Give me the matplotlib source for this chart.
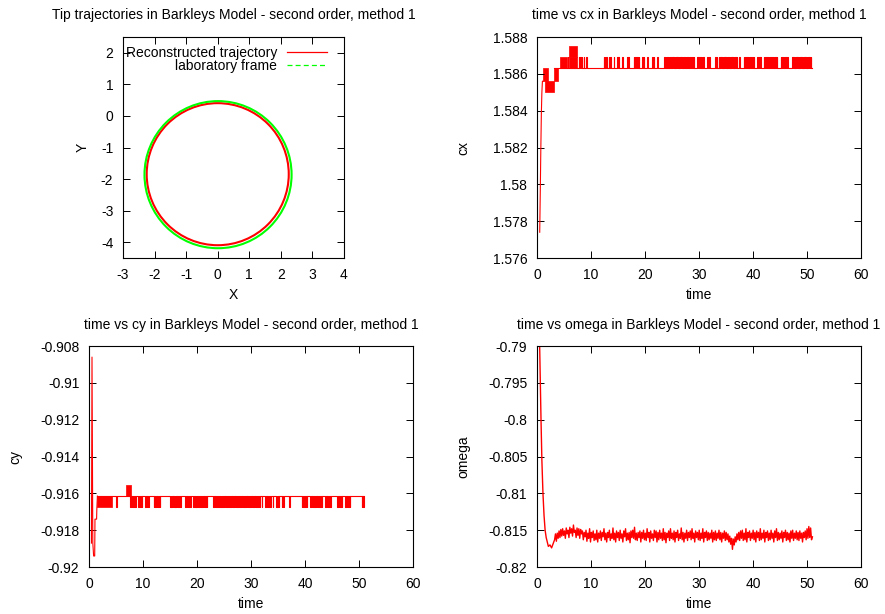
import numpy as np
import matplotlib
matplotlib.use("Agg")
import matplotlib.pyplot as plt
from matplotlib.patches import Circle
from matplotlib.lines import Line2D
from matplotlib.ticker import FuncFormatter, MultipleLocator

RED = "#ff0000"
GREEN = "#00ff00"
FS = 10

# ── Tip trajectories (circle centre / radius per curve) ───────────────────
circ_labels = ["Reconstructed trajectory", "laboratory frame"]
circ_x0 = [0.0, 0.01]
circ_y0 = [-1.845, -1.86]
circ_r = [2.25, 2.33]

# ── cx vs time ────────────────────────────────────────────────────────────
cx_head_t = [0.5, 0.6, 0.7, 0.8, 0.9, 1.0, 1.15]
cx_head_v = [1.5774, 1.5795, 1.5818, 1.5838, 1.5850, 1.5856, 1.5856]
cx_base, cx_high = 1.5863, 1.5869
cx_start, cx_end = 3.1, 50.9
# dense toggling blocks: (t0, t1, low, high)
cx_bands = [(1.15, 2.0, 1.5856, 1.5863), (1.55, 3.2, 1.5850, 1.5856),
            (3.1, 3.8, 1.5856, 1.5863), (4.3, 5.55, 1.5863, 1.5869),
            (5.85, 7.45, 1.5863, 1.5869), (5.95, 7.35, 1.5869, 1.5875)]
cx_spikes = [5.65, 7.7, 7.95, 8.3, 8.65, 9.05,
             12.35, 12.55, 12.8, 13.3, 13.55, 14.2, 14.8, 15.0, 15.75, 16.65,
             16.85, 17.9, 18.2, 18.5, 18.8, 19.45, 19.75, 20.4, 21.3, 21.6,
             22.2, 23.5, 23.8, 24.1, 24.4, 24.7, 25.0, 25.25, 25.5, 25.75,
             26.0, 26.25, 26.5, 26.75, 27.0, 27.25, 27.5, 27.75, 28.1, 28.4,
             28.7, 29.0, 29.6, 29.9, 30.2, 30.5, 30.8, 31.5, 31.9, 33.0, 33.3,
             33.65, 33.9, 34.15, 34.4, 34.65, 34.9, 35.15, 35.4, 35.65, 35.9,
             36.15, 36.4, 36.7, 37.0, 37.4, 38.3, 38.6, 38.9, 39.2, 39.5, 39.8,
             40.1, 40.75, 41.1, 41.35, 42.0, 42.3, 42.6, 42.9, 43.2, 43.5,
             43.8, 44.1, 44.4, 45.1, 45.4, 45.7, 46.0, 46.3, 47.2, 47.45, 47.7,
             47.95, 48.2, 48.45, 48.7, 48.95, 49.2, 49.45, 49.7, 49.95, 50.2,
             50.45, 50.7]

# ── cy vs time ────────────────────────────────────────────────────────────
cy_head_t = [0.45, 0.55, 0.7, 0.85, 1.05, 1.1, 1.4, 1.45, 1.55]
cy_head_v = [-0.9187, -0.9086, -0.9187, -0.9194, -0.9194, -0.9174, -0.9174,
             -0.9168, -0.91615]
cy_base, cy_low = -0.91615, -0.91675
cy_start, cy_end = 1.55, 50.8
cy_bands = [(1.55, 4.2, -0.91675, -0.91615), (6.85, 7.7, -0.91615, -0.91555)]
cy_spikes = [5.05, 7.6, 7.9, 8.2, 8.5, 9.1, 9.45, 9.75, 10.4, 10.7, 11.0, 12.0,
             12.25, 12.5, 12.8, 13.1, 15.0, 15.25, 15.5, 15.75, 16.0, 16.2,
             16.55, 16.85, 17.8, 18.1, 18.4, 18.7, 19.3, 19.6, 19.9, 20.25,
             20.55, 20.9, 21.2, 21.5, 21.8, 23.0, 23.3, 23.6, 23.95, 24.25,
             24.5, 24.8, 25.1, 25.4, 25.8, 26.1, 26.4, 26.7, 27.0, 27.3, 27.6,
             27.95, 28.3, 28.6, 28.9, 29.2, 29.5, 29.8, 30.1, 30.4, 30.7, 31.0,
             31.3, 31.6, 31.95, 32.6, 32.9, 33.2, 33.5, 34.0, 34.6, 34.9, 35.1,
             35.7, 36.0, 37.1, 39.4, 39.7, 40.0, 40.3, 40.9, 41.2, 41.5, 41.85,
             42.15, 42.45, 42.75, 43.1, 43.7, 44.0, 44.3, 44.6, 45.9, 46.2,
             46.5, 46.8, 47.4, 47.7, 48.0, 48.3, 50.5, 50.8]

# ── omega vs time ─────────────────────────────────────────────────────────
om_head_t = [0.45, 0.6, 0.74, 0.9, 1.1, 1.3, 1.5, 1.7, 1.9, 2.1, 2.4, 2.7, 3.0]
om_head_v = [-0.7885, -0.7945, -0.8000, -0.8055, -0.8100, -0.8130, -0.8150,
             -0.8160, -0.8166, -0.8172, -0.8170, -0.8174, -0.8168]
om_mean = -0.8157
om_t0, om_t1 = 3.25, 51.0
# deviations from the mean, in units of 1e-4
om_dev = [-6, 2, -8, 3, -4, 6, -3, 8, -1, 9, 0, 6, -4, 10, 2, 7,
          -3, 11, 3, 9, -1, 14, 4, 7, -3, 10, 0, 9, -4, 8, 2, 6,
          -6, 4, -2, 7, -8, 3, -4, 9, -9, 4, -3, 6, -7, 2, -6, 7,
          -9, 3, -4, 6, -7, 4, -2, 9, -6, 3, -9, 4, -3, 7, -7, 2,
          -4, 10, -6, 3, -9, 6, -3, 4, -7, 7, -4, 2, -9, 6, -2, 9,
          -7, 3, -6, 4, -10, 6, -3, 7, -4, 11, -6, 3, -7, 4, -3, 6,
          -9, 4, -4, 7, -6, 3, -7, 9, -3, 4, -9, 6, -4, 2, -7, 7,
          -3, 6, -9, 4, -6, 7, -4, 3, -7, 9, -6, 4, -10, 3, -3, 6,
          -7, 9, -4, 3, -6, 6, -9, 4, -3, 7, -7, 2, -4, 10, -6, 4,
          -9, 3, -4, 7, -7, 4, -3, 6, -6, 9, -4, 3, -9, 6, -3, 4,
          -6, 7, -7, 3, -4, 9, -9, 4, -3, 6, -7, 4, -6, 3, -4, 7,
          -9, 4, -6, 6, -7, 3, -4, 7, -6, 4, -9, 3, -4, 6, -7, 4,
          -6, 2, -9, -1, -12, -4, -19, -5, -13, -2, -9, 2, -6, 4, -7, 6,
          -4, 7, -7, 3, -6, 9, -9, 4, -3, 6, -7, 3, -4, 7, -6, 4,
          -9, 6, -3, 4, -7, 9, -6, 3, -4, 7, -9, 4, -3, 6, -7, 3,
          -6, 7, -4, 3, -9, 6, -3, 9, -7, 4, -6, 3, -4, 6, -9, 4,
          -3, 7, -7, 4, -6, 3, -9, 6, -4, 7, -7, 3, -4, 6, -6, 4,
          -7, 6, -4, 3, -9, 4, -3, 6, -6, 9, -4, 12, -3, 10, -6, -2]

plt.rcParams.update({
    "font.family": "Liberation Sans",
    "font.size": FS,
    "axes.linewidth": 0.8,
})


def fmt(v, _pos):
    return f"{round(v, 6):g}"


def style(ax, xlabel, ylabel, title, ylabel_x, title_pad):
    ax.tick_params(direction="in", top=True, right=True, length=5, width=0.7,
                   pad=7, labelsize=FS)
    ax.xaxis.set_major_formatter(FuncFormatter(fmt))
    ax.yaxis.set_major_formatter(FuncFormatter(fmt))
    ax.set_xlabel(xlabel, fontsize=FS)
    ax.set_ylabel(ylabel, fontsize=FS)
    ax.xaxis.set_label_coords(0.5, -0.135)
    ax.yaxis.set_label_coords(ylabel_x, 0.5)
    ax.set_title(title, fontsize=FS, pad=title_pad)


def spike_path(t0, t1, base, level, spikes, width=0.12):
    xs, ys = [t0], [base]
    for s in spikes:
        xs += [s, s, s + width, s + width]
        ys += [base, level, level, base]
    xs.append(t1)
    ys.append(base)
    return xs, ys


fig = plt.figure(figsize=(8.85, 6.14), dpi=100)
ax1 = fig.add_axes([0.139, 0.5798, 0.2497, 0.3599])
ax2 = fig.add_axes([0.6068, 0.5798, 0.3661, 0.3599])
ax3 = fig.add_axes([0.1006, 0.0765, 0.3661, 0.3599])
ax4 = fig.add_axes([0.6068, 0.0765, 0.3661, 0.3599])

# panel 1 – trajectories
for x0, y0, r, c in zip(circ_x0, circ_y0, circ_r, [RED, GREEN]):
    ax1.add_patch(Circle((x0, y0), r, fill=False, edgecolor=c, lw=1.5))
ax1.set_xlim(-3, 4)
ax1.set_ylim(-4.5, 2.5)
ax1.xaxis.set_major_locator(MultipleLocator(1))
ax1.yaxis.set_major_locator(MultipleLocator(1))
handles = [Line2D([], [], color=RED, lw=0.9),
           Line2D([], [], color=GREEN, lw=0.9, dashes=(4, 2.5))]
ax1.legend(handles, circ_labels, loc="upper right", bbox_to_anchor=(0.923, 0.958),
           frameon=False, markerfirst=False, handlelength=2.9,
           handletextpad=0.7, labelspacing=-0.1, borderpad=0, borderaxespad=0,
           fontsize=FS)
style(ax1, "X", "Y", "Tip trajectories in Barkleys Model - second order, method 1",
      -0.153, 13)

# panel 2 – cx
ax2.plot(cx_head_t, cx_head_v, color=RED, lw=0.8)
for t0, t1, lo, hi in cx_bands:
    ax2.fill_between([t0, t1], lo, hi, color=RED, lw=0.5)
xs, ys = spike_path(cx_start, cx_end, cx_base, cx_high, cx_spikes)
ax2.plot(xs, ys, color=RED, lw=0.8)
ax2.set_xlim(0, 60)
ax2.set_ylim(1.576, 1.588)
ax2.xaxis.set_major_locator(MultipleLocator(10))
ax2.yaxis.set_major_locator(MultipleLocator(0.002))
style(ax2, "time", "cx", "time vs cx in Barkleys Model - second order, method 1",
      -0.207, 13)

# panel 3 – cy
ax3.plot(cy_head_t, cy_head_v, color=RED, lw=0.8)
for t0, t1, lo, hi in cy_bands:
    ax3.fill_between([t0, t1], lo, hi, color=RED, lw=0.5)
xs, ys = spike_path(cy_start, cy_end, cy_base, cy_low, cy_spikes)
ax3.plot(xs, ys, color=RED, lw=0.8)
ax3.set_xlim(0, 60)
ax3.set_ylim(-0.92, -0.908)
ax3.xaxis.set_major_locator(MultipleLocator(10))
ax3.yaxis.set_major_locator(MultipleLocator(0.002))
style(ax3, "time", "cy", "time vs cy in Barkleys Model - second order, method 1",
      -0.207, 12.5)

# panel 4 – omega
om_t = list(om_head_t) + list(np.linspace(om_t0, om_t1, len(om_dev)))
om_v = list(om_head_v) + [om_mean + d * 1e-4 for d in om_dev]
ax4.plot(om_t, om_v, color=RED, lw=1.0)
ax4.set_xlim(0, 60)
ax4.set_ylim(-0.82, -0.79)
ax4.xaxis.set_major_locator(MultipleLocator(10))
ax4.yaxis.set_major_locator(MultipleLocator(0.005))
style(ax4, "time", "omega", "time vs omega in Barkleys Model - second order, method 1",
      -0.207, 12.5)

fig.savefig("out.png", dpi=100)
